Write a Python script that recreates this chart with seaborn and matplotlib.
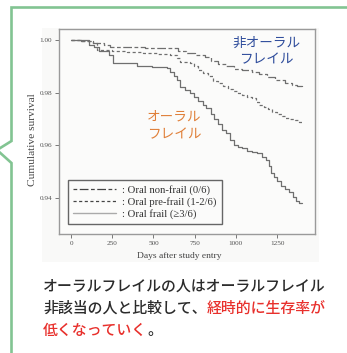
import numpy as np
import pandas as pd
import matplotlib.pyplot as plt
import seaborn as sns
from matplotlib.lines import Line2D
from matplotlib.patches import Rectangle

# 각 군의 생존 곡선
non_days = [0, 60, 135, 200, 236, 350, 450, 600, 650, 700, 750, 810, 850, 890, 940,
            990, 1040, 1095, 1140, 1190, 1240, 1295, 1340, 1370, 1400]
non_surv = [1.000, 0.9995, 0.9989, 0.998, 0.9973, 0.9972, 0.9971, 0.997, 0.996, 0.995,
            0.9942, 0.9935, 0.9922, 0.991, 0.990, 0.989, 0.9885, 0.9879, 0.987, 0.986,
            0.985, 0.9837, 0.983, 0.9825, 0.982]

pre_days = [0, 60, 135, 157, 250, 340, 435, 520, 600, 640, 660, 720, 745, 770, 800,
            830, 860, 890, 920, 950, 980, 1010, 1040, 1065, 1095, 1120, 1143, 1170,
            1195, 1222, 1250, 1280, 1300, 1325, 1360, 1385, 1400]
pre_surv = [1.000, 0.9995, 0.9989, 0.9962, 0.9958, 0.9954, 0.995, 0.9947, 0.9943, 0.993,
            0.9917, 0.9913, 0.990, 0.9886, 0.9875, 0.9862, 0.9845, 0.9835, 0.9825, 0.9815,
            0.9805, 0.980, 0.979, 0.9784, 0.978, 0.9765, 0.9753, 0.9745, 0.9738, 0.9727,
            0.972, 0.971, 0.9705, 0.970, 0.9695, 0.969, 0.969]

frail_days = [0, 110, 140, 170, 230, 255, 400, 490, 585, 600, 625, 645, 660, 690, 720,
              745, 770, 800, 820, 850, 870, 890, 915, 940, 965, 990, 1015, 1040, 1070,
              1100, 1130, 1160, 1185, 1200, 1215, 1230, 1250, 1275, 1300, 1325, 1345,
              1365, 1385, 1400]
frail_surv = [1.000, 0.998, 0.9975, 0.996, 0.9943, 0.9913, 0.990, 0.9897, 0.9894, 0.9879,
              0.9865, 0.985, 0.982, 0.981, 0.980, 0.9785, 0.977, 0.9755, 0.974, 0.972,
              0.970, 0.968, 0.966, 0.9645, 0.962, 0.960, 0.9592, 0.9588, 0.958, 0.9575,
              0.957, 0.9555, 0.9545, 0.952, 0.9495, 0.948, 0.9465, 0.9445, 0.9435, 0.9423,
              0.9405, 0.939, 0.938, 0.938]

groups = ['non', 'pre', 'frail']
labels = [': Oral non-frail (0/6)', ': Oral pre-frail (1-2/6)', ': Oral frail (\u22653/6)']
x_ticks = [0, 250, 500, 750, 1000, 1250]
y_ticks = [0.94, 0.96, 0.98, 1.00]

df = pd.concat([
    pd.DataFrame({'days': non_days, 'surv': non_surv, 'group': 'non'}),
    pd.DataFrame({'days': pre_days, 'surv': pre_surv, 'group': 'pre'}),
    pd.DataFrame({'days': frail_days, 'surv': frail_surv, 'group': 'frail'}),
])

sns.set_style('white')
plt.rcParams['font.family'] = ['Noto Sans CJK JP', 'DejaVu Sans']

fig = plt.figure(figsize=(3.47, 3.53), dpi=100)
W, H = 347, 353

# 붙여넣은 그림 배경
fig.patches.append(Rectangle((42 / W, 1 - 262 / H), 277 / W, 234 / H, transform=fig.transFigure,
                             facecolor='#f9f9f8', edgecolor='none', zorder=-5))

ax = fig.add_axes([59 / W, 1 - 234 / H, 256 / W, 205 / H])
ax.set_facecolor('#fbfbfa')

dash_map = {'non': (3, 2, 7, 2), 'pre': (2.5, 2), 'frail': ''}
sns.lineplot(data=df, x='days', y='surv', style='group', dashes=dash_map,
             style_order=groups, color='#6f6f6f', linewidth=0.9,
             drawstyle='steps-post', legend=False, ax=ax)

ax.set_xlim(-73, 1480)
ax.set_ylim(0.9263, 1.0042)
ax.set_xticks(x_ticks)
ax.set_xticklabels([str(t) for t in x_ticks])
ax.set_yticks(y_ticks)
ax.set_yticklabels([f'{t:.2f}' for t in y_ticks])
for sp in ax.spines.values():
    sp.set_color('#9a9a9a')
    sp.set_linewidth(1.0)
ax.tick_params(axis='both', direction='out', length=3, width=0.7, color='#777777',
               labelsize=5.2, labelcolor='#555555', pad=2,
               bottom=True, left=True)
for lab in ax.get_xticklabels() + ax.get_yticklabels():
    lab.set_family('Liberation Serif')

ax.set_xlabel('Days after study entry', family='Liberation Serif', fontsize=6.8,
              color='#444444')
ax.xaxis.set_label_coords(0.47, -0.09)
ax.set_ylabel('Cumulative survival', family='Liberation Serif', fontsize=8.2,
              color='#444444')
ax.yaxis.set_label_coords(-0.085, 0.46)

# 범례
handles = [
    Line2D([], [], color='#444444', lw=0.9, dashes=(3, 2, 7, 2)),
    Line2D([], [], color='#444444', lw=0.9, dashes=(2.5, 2)),
    Line2D([], [], color='#aaaaaa', lw=1.0),
]
leg = ax.legend(handles, labels, loc='lower left', bbox_to_anchor=(0.035, 0.049),
                borderaxespad=0, handlelength=4.0, handletextpad=0.55,
                labelspacing=0.17, borderpad=0.5, fancybox=False, framealpha=1,
                facecolor='#fbfbfa', edgecolor='#666666',
                prop={'family': 'Liberation Serif', 'size': 7.7})
leg.get_frame().set_linewidth(1.0)
for t in leg.get_texts():
    t.set_color('#333333')

# 주석 텍스트
ax.text(266 / W, 1 - 51 / H, '非オーラル\nフレイル', transform=fig.transFigure,
        ha='center', va='center', multialignment='center', fontsize=9.8,
        color='#2f4d9c', linespacing=1.15)
ax.text(174 / W, 1 - 125 / H, 'オーラル\nフレイル', transform=fig.transFigure,
        ha='center', va='center', multialignment='center', fontsize=9.8,
        color='#e0803a', linespacing=1.35)

# 하단 설명
dark = '#2b2b2b'
red = '#e8302c'
fs = 10.75
t1 = fig.text(43 / W, 1 - 286 / H, 'オーラルフレイルの人はオーラルフレイル',
              ha='left', va='center', fontsize=fs, color=dark, weight='medium')
t2 = fig.text(43 / W, 1 - 308 / H, '非該当の人と比較して、',
              ha='left', va='center', fontsize=fs, color=dark, weight='medium')
ax.annotate('経時的に生存率が', xy=(1, 0), xycoords=t2, ha='left', va='bottom',
            fontsize=fs, color=red, weight='medium', annotation_clip=False)
t3 = fig.text(43 / W, 1 - 330 / H, '低くなっていく', ha='left', va='center',
              fontsize=fs, color=red, weight='medium')
ax.annotate('。', xy=(1, 0), xycoords=t3, ha='left', va='bottom',
            fontsize=fs, color=dark, weight='medium', annotation_clip=False)

# 말풍선 테두리
gx = [W + 5, 11.5, 11.5, -3, 11.5, 11.5]
gy = [7.5, 7.5, 141, 150, 163, H + 5]
fig.add_artist(Line2D([x / W for x in gx], [1 - y / H for y in gy],
                      transform=fig.transFigure, color='#82c492', lw=1.9,
                      solid_joinstyle='miter'))

fig.savefig('out.png', dpi=100)
